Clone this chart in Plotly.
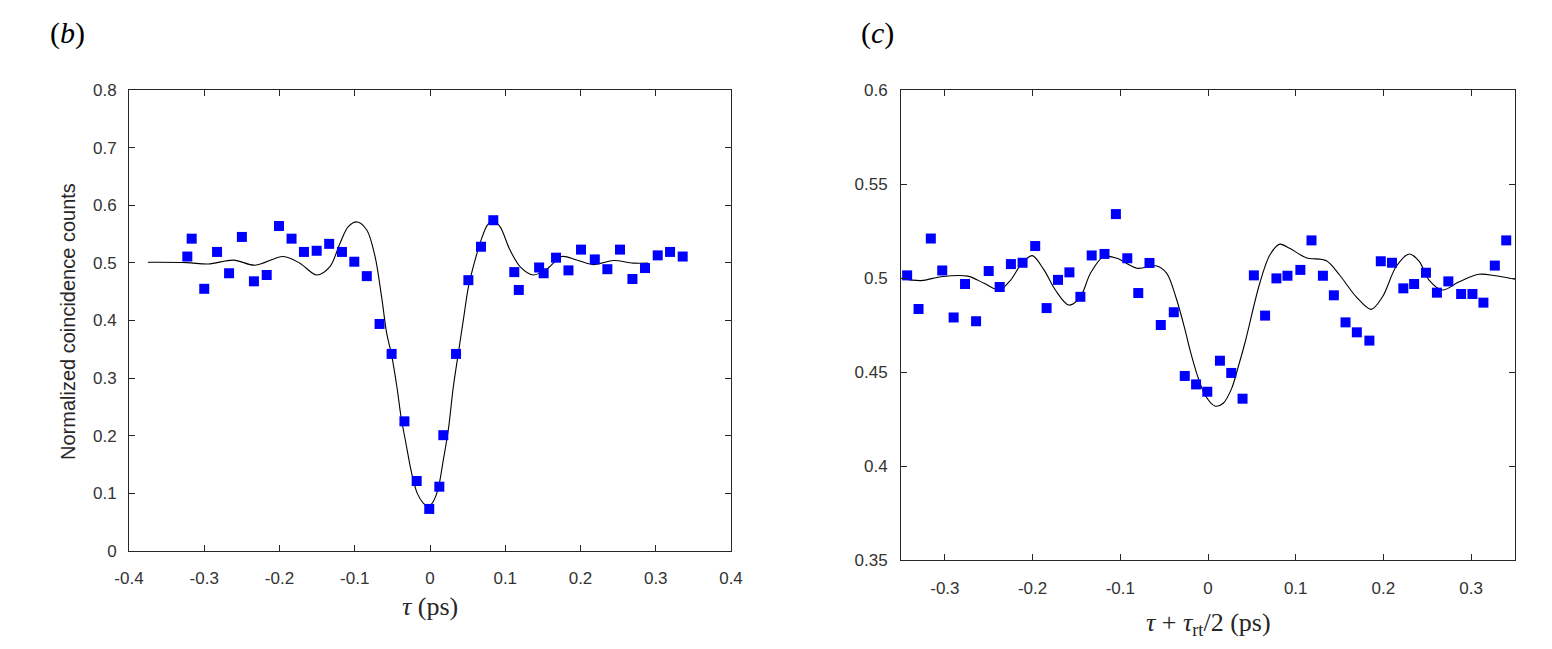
import plotly.graph_objects as go

# ---------------- data ----------------
# panel (b)
tau_b = [-0.3225, -0.3167, -0.300, -0.283, -0.267, -0.250, -0.234, -0.217, -0.2007, -0.184,
         -0.1675, -0.1506, -0.134, -0.117, -0.1006, -0.084, -0.067, -0.051, -0.034, -0.0177,
         -0.001, 0.0124, 0.0177, 0.0346, 0.051, 0.0678, 0.0841, 0.112, 0.118, 0.145,
         0.151, 0.1675, 0.184, 0.2007, 0.219, 0.2357, 0.2525, 0.269, 0.2857, 0.3026,
         0.319, 0.3358]
counts_b = [0.511, 0.542, 0.455, 0.519, 0.482, 0.545, 0.468, 0.479, 0.564, 0.542,
            0.519, 0.521, 0.533, 0.519, 0.502, 0.477, 0.394, 0.342, 0.225, 0.1215,
            0.073, 0.1116, 0.201, 0.342, 0.470, 0.528, 0.574, 0.484, 0.453, 0.492,
            0.482, 0.509, 0.487, 0.523, 0.506, 0.489, 0.523, 0.472, 0.491, 0.513,
            0.519, 0.511]

fit_tau_b = [-0.375, -0.323, -0.2946, -0.261, -0.2326, -0.195, -0.173, -0.1506, -0.133, -0.1196,
             -0.1086, -0.0966, -0.084, -0.073, -0.0642, -0.0576, -0.051, -0.044, -0.0385, -0.032,
             -0.0244, -0.0169, -0.0089, -0.0023, 0.0044, 0.011, 0.0177, 0.0243, 0.031, 0.0376,
             0.0443, 0.051, 0.0595, 0.068, 0.076, 0.083, 0.093, 0.106, 0.12, 0.137,
             0.155, 0.175, 0.195, 0.217, 0.244, 0.270, 0.290]
fit_b = [0.501, 0.5005, 0.498, 0.5047, 0.496, 0.511, 0.4995, 0.479, 0.4935, 0.534,
         0.563, 0.571, 0.557, 0.511, 0.44, 0.378, 0.340, 0.285, 0.233, 0.187,
         0.135, 0.100, 0.083, 0.077, 0.086, 0.109, 0.158, 0.210, 0.285, 0.343,
         0.401, 0.458, 0.503, 0.540, 0.565, 0.573, 0.563, 0.523, 0.493, 0.479,
         0.489, 0.511, 0.505, 0.497, 0.504, 0.4995, 0.4995]

# panel (c)
tau_c = [-0.343, -0.330, -0.316, -0.303, -0.290, -0.277, -0.2644, -0.250, -0.2375, -0.2247,
         -0.2114, -0.197, -0.184, -0.171, -0.158, -0.1455, -0.1326, -0.118, -0.105, -0.092,
         -0.0795, -0.0667, -0.0538, -0.039, -0.0265, -0.0136, -0.0008, 0.0136, 0.0265, 0.0394,
         0.0523, 0.0651, 0.078, 0.0906, 0.1053, 0.118, 0.131, 0.1435, 0.1568, 0.1697,
         0.184, 0.197, 0.2098, 0.2227, 0.235, 0.2485, 0.261, 0.274, 0.2886, 0.3015,
         0.314, 0.327, 0.340]
counts_c = [0.5014, 0.4835, 0.521, 0.504, 0.479, 0.4968, 0.477, 0.5037, 0.4952, 0.5074,
            0.5081, 0.517, 0.484, 0.499, 0.503, 0.490, 0.512, 0.5128, 0.534, 0.5105,
            0.492, 0.508, 0.475, 0.4818, 0.4479, 0.4434, 0.4395, 0.456, 0.4495, 0.4358,
            0.5014, 0.480, 0.4998, 0.5012, 0.5043, 0.520, 0.5012, 0.4908, 0.4764, 0.4711,
            0.4667, 0.5089, 0.5081, 0.4945, 0.4968, 0.5028, 0.4922, 0.4982, 0.4915, 0.4915,
            0.4869, 0.5066, 0.520]

fit_tau_c = [-0.35, -0.327, -0.3045, -0.274, -0.2553, -0.238, -0.225, -0.2136, -0.2004, -0.187,
             -0.174, -0.1587, -0.1455, -0.134, -0.119, -0.1038, -0.081, -0.0583, -0.047, -0.0356,
             -0.0261, -0.0205, -0.0129, -0.0034, 0.008, 0.0174, 0.027, 0.0345, 0.042, 0.059,
             0.0705, 0.0818, 0.093, 0.112, 0.135, 0.15, 0.169, 0.186, 0.199, 0.2144,
             0.2295, 0.241, 0.252, 0.2674, 0.2864, 0.309, 0.328, 0.35]
fit_c = [0.4998, 0.4986, 0.5007, 0.501, 0.4972, 0.4936, 0.4989, 0.5069, 0.5119, 0.5043,
         0.4936, 0.4856, 0.490, 0.5025, 0.5114, 0.5105, 0.5052, 0.5064, 0.5025, 0.4883,
         0.4723, 0.4617, 0.4493, 0.4378, 0.4319, 0.4334, 0.4413, 0.4528, 0.4653, 0.4972,
         0.5122, 0.518, 0.5158, 0.5108, 0.5092, 0.5016, 0.490, 0.4833, 0.490, 0.506,
         0.5128, 0.5087, 0.4989, 0.4936, 0.498, 0.502, 0.5012, 0.4993]

# tick labels
xtick_b_vals = [-0.4, -0.3, -0.2, -0.1, 0, 0.1, 0.2, 0.3, 0.4]
xtick_b_text = ["-0.4", "-0.3", "-0.2", "-0.1", "0", "0.1", "0.2", "0.3", "0.4"]
ytick_b_vals = [0, 0.1, 0.2, 0.3, 0.4, 0.5, 0.6, 0.7, 0.8]
ytick_b_text = ["0", "0.1", "0.2", "0.3", "0.4", "0.5", "0.6", "0.7", "0.8"]
xtick_c_vals = [-0.3, -0.2, -0.1, 0, 0.1, 0.2, 0.3]
xtick_c_text = ["-0.3", "-0.2", "-0.1", "0", "0.1", "0.2", "0.3"]
ytick_c_vals = [0.35, 0.4, 0.45, 0.5, 0.55, 0.6]
ytick_c_text = ["0.35", "0.4", "0.45", "0.5", "0.55", "0.6"]

# ---------------- figure ----------------
W, H = 1552, 649
AX = "#262626"
MARK = "#0000FF"

fig = go.Figure()
fig.add_trace(go.Scatter(x=fit_tau_b, y=fit_b, mode="lines",
                         line=dict(color="black", width=1.1, shape="spline", smoothing=0.9),
                         xaxis="x", yaxis="y", showlegend=False, hoverinfo="skip"))
fig.add_trace(go.Scatter(x=tau_b, y=counts_b, mode="markers",
                         marker=dict(symbol="square", size=10, color=MARK, line=dict(width=0)),
                         xaxis="x", yaxis="y", showlegend=False))
fig.add_trace(go.Scatter(x=fit_tau_c, y=fit_c, mode="lines",
                         line=dict(color="black", width=1.1, shape="spline", smoothing=0.9),
                         xaxis="x2", yaxis="y2", showlegend=False, hoverinfo="skip"))
fig.add_trace(go.Scatter(x=tau_c, y=counts_c, mode="markers",
                         marker=dict(symbol="square", size=10, color=MARK, line=dict(width=0)),
                         xaxis="x2", yaxis="y2", showlegend=False))

def px_x(p):
    return p / W

def px_y(p):
    return 1 - p / H

tickfont = dict(family="Liberation Sans, Arial, sans-serif", size=17, color="#333333")
common = dict(showline=True, linecolor=AX, linewidth=1, mirror="ticks", ticks="inside",
              ticklen=6, tickcolor=AX, tickwidth=1, showgrid=False, zeroline=False,
              tickfont=tickfont, tickmode="array", automargin=False)

fig.update_layout(
    width=W, height=H,
    margin=dict(l=0, r=0, t=0, b=0, autoexpand=False),
    paper_bgcolor="white", plot_bgcolor="white",
    xaxis=dict(domain=[px_x(129), px_x(731)], range=[-0.4, 0.4], anchor="y",
               tickvals=xtick_b_vals, ticktext=xtick_b_text, ticklabelstandoff=12, **common),
    yaxis=dict(domain=[px_y(551), px_y(90)], range=[0, 0.8], anchor="x",
               tickvals=ytick_b_vals, ticktext=ytick_b_text, ticklabelstandoff=8, **common),
    xaxis2=dict(domain=[px_x(901), px_x(1515)], range=[-0.35, 0.35], anchor="y2",
                tickvals=xtick_c_vals, ticktext=xtick_c_text, ticklabelstandoff=13, **common),
    yaxis2=dict(domain=[px_y(560), px_y(90)], range=[0.35, 0.6], anchor="x2",
                tickvals=ytick_c_vals, ticktext=ytick_c_text, ticklabelstandoff=9, **common),
)

serif = "Liberation Serif, Times New Roman, serif"
annots = [
    dict(text="(<i>b</i>)", x=px_x(67), y=px_y(33), font=dict(family=serif, size=30, color="black")),
    dict(text="(<i>c</i>)", x=px_x(877), y=px_y(33), font=dict(family=serif, size=30, color="black")),
    dict(text="<i>τ</i> (ps)", x=px_x(430), y=px_y(606), font=dict(family=serif, size=26, color=AX)),
    dict(text="<i>τ</i> + <i>τ</i><sub>rt</sub>/2 (ps)", x=px_x(1208), y=px_y(624),
         font=dict(family=serif, size=26, color=AX)),
    dict(text="Normalized coincidence counts", x=px_x(68), y=px_y(322), textangle=-90,
         font=dict(family="Liberation Sans, Arial, sans-serif", size=20, color=AX)),
]
for a in annots:
    fig.add_annotation(xref="paper", yref="paper", showarrow=False,
                       xanchor="center", yanchor="middle", **a)

fig.write_html("out.html")
